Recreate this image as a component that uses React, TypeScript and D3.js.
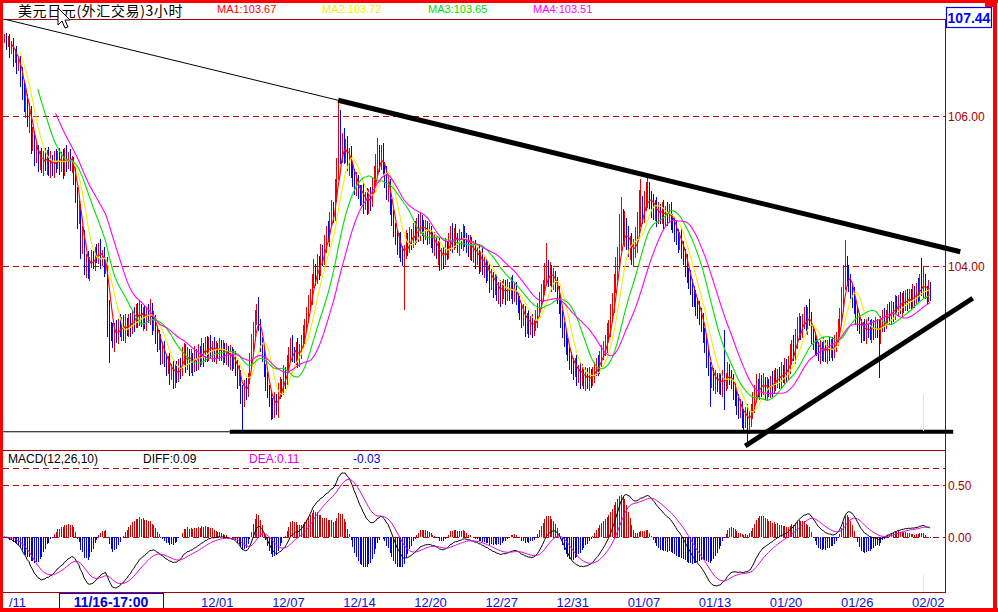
import * as d3 from "d3";

// USD/JPY 3-hour bars, closes in 0.01 JPY above 100.00
const closes = [
  705, 698, 702, 690, 694, 680, 684, 668, 672, 655,
  640, 618, 625, 600, 608, 565, 572, 548, 555, 538,
  545, 532, 548, 536, 550, 530, 542, 528, 546, 538,
  548, 534, 544, 530, 552, 538, 546, 536, 540, 522,
  500, 470, 478, 428, 440, 398, 410, 392, 405, 412,
  406, 420, 412, 424, 410, 416, 398, 404, 345, 318,
  312, 300, 318, 308, 322, 314, 326, 310, 324, 316,
  328, 318, 334, 326, 342, 330, 344, 328, 338, 326,
  340, 332, 344, 322, 330, 312, 298, 304, 282, 290,
  276, 268, 272, 258, 264, 250, 262, 254, 270, 262,
  280, 290, 272, 282, 266, 276, 268, 284, 272, 286,
  278, 292, 280, 296, 284, 298, 286, 294, 282, 292,
  286, 294, 282, 290, 280, 288, 276, 284, 272, 280,
  266, 250, 256, 232, 224, 240, 236, 252, 275, 296,
  318, 330, 340, 322, 300, 284, 262, 250, 236, 226,
  218, 210, 222, 212, 232, 244, 238, 258, 250, 270,
  282, 296, 286, 280, 290, 274, 288, 298, 310, 322,
  336, 350, 362, 380, 396, 386, 404, 396, 420, 412,
  430, 446, 440, 462, 476, 470, 500, 530, 560, 548,
  566, 550, 560, 536, 548, 530, 520, 505, 512, 498,
  492, 500, 484, 490, 480, 496, 488, 506, 518, 530,
  548, 540, 552, 530, 520, 500, 506, 478, 466, 448,
  440, 425, 432, 418, 410, 418, 436, 428, 442, 434,
  448, 440, 456, 446, 462, 450, 444, 452, 440, 446,
  436, 428, 434, 418, 424, 405, 416, 410, 426, 420,
  434, 446, 430, 442, 436, 428, 440, 432, 444, 436,
  430, 422, 432, 416, 424, 412, 420, 404, 412, 398,
  404, 390, 396, 380, 386, 372, 380, 366, 372, 360,
  368, 374, 362, 372, 366, 376, 364, 370, 358, 350,
  342, 330, 338, 322, 330, 318, 326, 316, 324, 330,
  342, 352, 364, 372, 388, 396, 384, 392, 380, 386,
  376, 362, 350, 334, 316, 306, 292, 286, 276, 268,
  262, 270, 256, 262, 250, 258, 248, 256, 246, 254,
  250, 258, 262, 270, 266, 278, 284, 290, 296, 310,
  318, 336, 352, 374, 392, 412, 430, 446, 440, 452,
  436, 424, 430, 412, 420, 432, 448, 462, 476, 470,
  484, 492, 498, 488, 480, 472, 478, 466, 474, 468,
  476, 464, 472, 466, 474, 462, 456, 448, 440, 432,
  438, 424, 414, 402, 390, 384, 374, 362, 358, 348,
  342, 336, 328, 310, 298, 280, 266, 252, 256, 246,
  250, 244, 248, 238, 256, 246, 250, 260, 252, 248,
  236, 226, 218, 210, 214, 200, 196, 204, 190, 198,
  206, 218, 230, 240, 236, 246, 238, 244, 234, 240,
  236, 246, 240, 252, 246, 256, 250, 260, 254, 264,
  258, 270, 280, 290, 284, 302, 312, 322, 316, 326,
  334, 322, 336, 330, 312, 300, 296, 292, 284, 290,
  286, 294, 282, 292, 288, 294, 286, 298, 304, 318,
  330, 354, 380, 398, 390, 380, 368, 360, 348, 336,
  326, 320, 312, 318, 310, 322, 316, 312, 320, 314,
  322, 316, 306, 324, 330, 326, 334, 340, 332, 344,
  338, 350, 344, 352, 346, 356, 350, 358, 352, 360,
  354, 362, 358, 368, 364, 378, 372, 380, 366, 362, 370, 366,
];

// upper / lower shadows beyond open-close, in 0.01 JPY
const hiWick = [
  4, 6, 5, 8, 6, 10, 5, 9, 6, 8,
  10, 6, 12, 5, 9, 6, 14, 8, 10, 6,
  8, 12, 6, 10, 5, 9, 12, 6, 8, 10,
  6, 10, 8, 12, 5, 9, 6, 10, 7, 5,
  12, 6, 10, 5, 14, 8, 6, 10, 7, 9,
  8, 5, 10, 7, 12, 6, 9, 5, 8, 10,
  7, 12, 6, 10, 8, 14, 6, 9, 12, 7,
  8, 10, 6, 12, 7, 9, 11, 6, 8, 10,
  6, 9, 12, 7, 10, 5, 8, 11, 6, 9,
  10, 6, 8, 12, 5, 9, 7, 11, 6, 8,
  12, 8, 6, 10, 7, 14, 8, 9, 6, 10,
  8, 12, 6, 9, 11, 7, 10, 6, 12, 8,
  6, 10, 8, 12, 7, 9, 6, 11, 8, 10,
  7, 9, 12, 6, 10, 8, 11, 6, 9, 14,
  8, 12, 10, 19, 8, 6, 10, 7, 9, 6,
  8, 6, 10, 7, 12, 8, 6, 10, 8, 12,
  10, 8, 12, 6, 9, 14, 8, 10, 12, 7,
  9, 12, 8, 10, 14, 7, 12, 9, 10, 8,
  12, 8, 14, 10, 12, 9, 16, 14, 61, 48,
  12, 18, 10, 14, 9, 12, 8, 10, 14, 9,
  10, 8, 12, 9, 14, 7, 10, 12, 16, 20,
  23, 14, 10, 12, 9, 14, 8, 10, 12, 9,
  10, 8, 12, 14, 9, 10, 12, 8, 10, 7,
  9, 12, 8, 14, 10, 6, 12, 9, 8, 11,
  8, 10, 12, 7, 9, 14, 8, 10, 12, 6,
  10, 7, 12, 9, 14, 8, 10, 6, 12, 9,
  8, 12, 10, 7, 9, 11, 6, 10, 8, 12,
  9, 7, 12, 8, 10, 6, 11, 9, 7, 10,
  12, 9, 8, 11, 7, 10, 12, 8, 9, 6,
  10, 8, 12, 9, 7, 11, 8, 10, 6, 12,
  9, 14, 12, 10, 16, 35, 12, 14, 10, 12,
  8, 10, 12, 9, 7, 10, 8, 12, 6, 9,
  10, 8, 12, 6, 9, 11, 7, 10, 8, 12,
  9, 7, 10, 8, 12, 9, 11, 10, 12, 14,
  10, 14, 12, 16, 20, 14, 40, 46, 30, 22,
  12, 18, 10, 14, 16, 20, 24, 40, 40, 18,
  16, 20, 20, 14, 12, 16, 10, 14, 12, 9,
  10, 12, 8, 14, 9, 11, 8, 10, 12, 9,
  8, 12, 10, 9, 14, 8, 11, 9, 12, 10,
  9, 12, 8, 10, 7, 11, 9, 6, 10, 8,
  12, 8, 10, 9, 6, 59, 8, 12, 10, 9,
  8, 10, 7, 12, 9, 6, 10, 8, 12, 9,
  10, 14, 12, 16, 10, 12, 9, 14, 8, 12,
  10, 8, 14, 9, 12, 7, 10, 12, 8, 14,
  12, 10, 16, 12, 18, 14, 20, 16, 12, 10,
  12, 14, 10, 20, 9, 8, 12, 10, 7, 11,
  9, 12, 8, 10, 14, 9, 12, 10, 8, 12,
  14, 18, 22, 37, 16, 12, 10, 9, 12, 8,
  10, 12, 9, 8, 11, 7, 10, 12, 9, 8,
  10, 8, 12, 9, 11, 14, 8, 10, 12, 9,
  8, 12, 10, 9, 14, 8, 11, 10, 12, 9,
  10, 14, 12, 9, 16, 12, 33, 20, 10, 8, 12, 9,
];

const loWick = [
  8, 10, 6, 12, 7, 14, 9, 12, 8, 16,
  18, 12, 20, 14, 22, 16, 12, 14, 10, 12,
  10, 8, 12, 9, 14, 10, 12, 8, 10, 14,
  9, 12, 8, 14, 10, 12, 8, 9, 12, 14,
  16, 20, 14, 18, 12, 10, 14, 9, 12, 8,
  10, 12, 8, 9, 14, 10, 12, 8, 40, 47,
  12, 9, 14, 10, 12, 8, 14, 10, 12, 9,
  10, 12, 9, 14, 8, 12, 10, 9, 14, 10,
  12, 8, 10, 14, 9, 16, 12, 10, 14, 12,
  10, 14, 12, 16, 10, 14, 12, 10, 8, 12,
  9, 12, 14, 10, 12, 8, 14, 9, 12, 10,
  12, 10, 14, 8, 12, 10, 9, 14, 10, 12,
  10, 12, 8, 14, 9, 12, 10, 14, 12, 9,
  12, 14, 10, 16, 45, 12, 14, 10, 9, 12,
  10, 12, 9, 8, 14, 12, 10, 16, 12, 14,
  23, 14, 12, 10, 14, 9, 12, 10, 14, 8,
  12, 10, 14, 9, 12, 10, 8, 12, 9, 14,
  10, 12, 8, 14, 9, 12, 10, 14, 9, 12,
  10, 12, 8, 14, 9, 12, 10, 14, 15, 12,
  10, 14, 12, 9, 16, 12, 14, 10, 12, 9,
  12, 10, 14, 9, 12, 10, 14, 9, 8, 12,
  10, 14, 12, 9, 16, 12, 14, 10, 12, 9,
  12, 10, 14, 12, 10, 69, 9, 14, 10, 12,
  10, 12, 9, 14, 12, 10, 14, 9, 12, 10,
  12, 10, 14, 9, 16, 12, 10, 14, 9, 12,
  10, 14, 12, 9, 12, 10, 14, 9, 12, 10,
  12, 10, 14, 9, 12, 16, 10, 14, 12, 10,
  14, 12, 10, 16, 12, 14, 10, 12, 16, 14,
  10, 12, 14, 9, 12, 10, 14, 12, 10, 12,
  14, 12, 10, 16, 12, 14, 10, 12, 9, 10,
  12, 10, 9, 12, 10, 14, 12, 10, 14, 12,
  10, 12, 14, 16, 12, 14, 10, 12, 14, 12,
  14, 10, 16, 12, 14, 10, 12, 14, 10, 12,
  12, 10, 14, 9, 12, 10, 12, 9, 10, 12,
  10, 12, 9, 14, 10, 12, 14, 10, 12, 14,
  14, 12, 16, 10, 12, 9, 14, 12, 10, 14,
  12, 10, 14, 12, 16, 10, 12, 14, 10, 12,
  12, 14, 10, 12, 9, 14, 12, 16, 12, 14,
  10, 14, 12, 16, 12, 14, 12, 16, 12, 14,
  12, 14, 16, 12, 14, 16, 12, 40, 14, 12,
  16, 12, 14, 10, 12, 38, 12, 14, 10, 12,
  14, 12, 16, 14, 12, 16, 14, 12, 25, 14,
  12, 10, 14, 12, 10, 14, 12, 10, 12, 14,
  10, 12, 14, 10, 12, 9, 14, 12, 10, 12,
  12, 10, 14, 12, 10, 14, 12, 10, 14, 12,
  10, 12, 14, 10, 16, 12, 14, 12, 10, 14,
  12, 14, 10, 12, 14, 10, 12, 9, 12, 10,
  12, 10, 14, 12, 16, 14, 12, 16, 12, 14,
  12, 10, 14, 12, 10, 14, 12, 10, 14, 12,
  10, 12, 55, 10, 12, 14, 10, 12, 9, 10,
  12, 10, 9, 12, 10, 14, 12, 10, 12, 9,
  12, 10, 14, 9, 12, 10, 12, 14, 10, 12, 10, 12,
];

const maPeriods = [5, 10, 20, 30];
const maColors = ["#ff0000", "#f0f000", "#00e000", "#ff00ff"];
const maLabels = ["MA1:103.67", "MA2:103.72", "MA3:103.65", "MA4:103.51"];
const maLabelX = [217, 322, 428, 533];

// date ticks every 40 bars; 11/18 sits under the cursor box
const dateBars = [0, 80, 120, 160, 200, 240, 280, 320, 360, 400, 440, 480, 520];
const dateLabels = ["11/11", "11/24", "12/01", "12/07", "12/14", "12/20", "12/27", "12/31", "01/07", "01/13", "01/20", "01/26", "02/02"];

const priceTicks = [106, 104];
const macdTicks = [0.5, 0];

// hand drawn trend lines: [bar index, price]
const upperLine = [[0.5, 107.29], [188, 106.21], [538, 104.19]];
const floorLine = [[-0.5, 101.79], [127, 101.79], [534, 101.79]];
const risingLine = [[417, 101.6], [545, 103.57]];

const AXIS = "#a80000";
const FONT = "'Liberation Sans', Arial, sans-serif";

export default function App() {
  const price = closes.map((v) => 100 + v / 100);
  const x = d3.scaleLinear().domain([0, 100]).range([4, 4 + 177.75]);
  const y = d3.scaleLinear().domain([104, 106]).range([266, 116]);
  const ym = d3.scaleLinear().domain([0, 0.5]).range([537, 485]);
  const px = (i: number) => Math.round(x(i)) + 0.5;

  const bars = price.map((c, i) => {
    const o = i ? price[i - 1] : c;
    const hi = Math.max(o, c) + (hiWick[i] ?? 8) / 100;
    const lo = Math.min(o, c) - (loWick[i] ?? 8) / 100;
    return { i, hi, lo, up: c >= o };
  });

  const sma = (p: number) =>
    price.map((_, i) => (i < p - 1 ? null : d3.mean(price.slice(i - p + 1, i + 1)) as number));

  const ema = (arr: number[], n: number) => {
    const k = 2 / (n + 1);
    let e = arr[0];
    return arr.map((v, i) => (e = i === 0 ? v : e + k * (v - e)));
  };
  const e12 = ema(price, 12);
  const e26 = ema(price, 26);
  const diff = e12.map((v, i) => v - e26[i]);
  const dea = ema(diff, 10);
  const hist = diff.map((v, i) => 2 * (v - dea[i]));

  const maLine = d3
    .line<number | null>()
    .defined((d) => d != null)
    .x((_, i) => x(i))
    .y((d) => y(d as number));
  const macdLine = d3
    .line<number>()
    .x((_, i) => x(i))
    .y((d) => ym(d));
  const trend = d3
    .line<number[]>()
    .x((d) => x(d[0]))
    .y((d) => y(d[1]));

  return (
    <svg
      width={998}
      height={612}
      style={{ position: "absolute", left: 0, top: 0, background: "#fff" }}
      fontFamily={FONT}
    >
      <defs>
        <clipPath id="mainClip">
          <rect x={3} y={20} width={942} height={430} />
        </clipPath>
        <clipPath id="macdClip">
          <rect x={3} y={451} width={942} height={141} />
        </clipPath>
        <clipPath id="dateClip">
          <rect x={3} y={593} width={990} height={15} />
        </clipPath>
      </defs>
      <rect width={998} height={612} fill="#fff" />

      {/* header */}
      <text x={18} y={16} fontSize={14} fontFamily="'Noto Sans CJK SC', sans-serif" fill="#000" letterSpacing={0.6}>
        美元日元(外汇交易)3小时
      </text>
      {maLabels.map((t, k) => (
        <text key={t} x={maLabelX[k]} y={13} fontSize={11} fill={maColors[k]}>
          {t}
        </text>
      ))}

      {/* panel frames */}
      <g stroke={AXIS} strokeWidth={1} shapeRendering="crispEdges">
        <line x1={3} x2={945} y1={19.5} y2={19.5} />
        <line x1={3} x2={945} y1={450.5} y2={450.5} />
        <line x1={3} x2={945} y1={592.5} y2={592.5} />
        <line x1={945.5} x2={945.5} y1={19} y2={593} />
      </g>
      <g stroke="#c00000" strokeDasharray="6,4" shapeRendering="crispEdges">
        {priceTicks.map((t) => (
          <line key={t} x1={3} x2={945} y1={Math.round(y(t)) + 0.5} y2={Math.round(y(t)) + 0.5} />
        ))}
        <line x1={3} x2={945} y1={468.5} y2={468.5} />
        {macdTicks.map((t) => (
          <line key={t} x1={3} x2={945} y1={Math.round(ym(t)) + 0.5} y2={Math.round(ym(t)) + 0.5} />
        ))}
      </g>

      {/* price bars + moving averages */}
      <g clipPath="url(#mainClip)">
        <g shapeRendering="crispEdges" strokeWidth={1}>
          {bars.map((b) => (
            <line
              key={b.i}
              x1={px(b.i)}
              x2={px(b.i)}
              y1={y(b.hi)}
              y2={y(b.lo)}
              stroke={b.up ? "#e80000" : "#0000f0"}
            />
          ))}
        </g>
        {maPeriods.map((p, k) => (
          <path key={p} d={maLine(sma(p)) ?? ""} fill="none" stroke={maColors[k]} strokeWidth={1.1} />
        ))}
      </g>

      {/* trend lines */}
      <path d={trend(upperLine.slice(0, 2)) ?? ""} stroke="#000" strokeWidth={1} fill="none" />
      <path d={trend(upperLine.slice(1)) ?? ""} stroke="#000" strokeWidth={5} fill="none" />
      <path d={trend(floorLine.slice(0, 2)) ?? ""} stroke="#000" strokeWidth={1.2} fill="none" />
      <path d={trend(floorLine.slice(1)) ?? ""} stroke="#000" strokeWidth={4} fill="none" />
      <path d={trend(risingLine) ?? ""} stroke="#000" strokeWidth={5} fill="none" />

      {/* MACD panel */}
      <text x={8} y={463} fontSize={12} fill="#000">MACD(12,26,10)</text>
      <text x={143} y={463} fontSize={12} fill="#000">DIFF:0.09</text>
      <text x={249} y={463} fontSize={12} fill="#e000e0">DEA:0.11</text>
      <text x={353} y={463} fontSize={12} fill="#0000e0">-0.03</text>
      <g clipPath="url(#macdClip)">
        <g shapeRendering="crispEdges" strokeWidth={1}>
          {hist.map((h, i) => (
            <line
              key={i}
              x1={px(i)}
              x2={px(i)}
              y1={ym(0)}
              y2={ym(h)}
              stroke={h >= 0 ? "#d00000" : "#0000e0"}
            />
          ))}
        </g>
        <path d={macdLine(diff) ?? ""} fill="none" stroke="#000" strokeWidth={1} />
        <path d={macdLine(dea) ?? ""} fill="none" stroke="#e000e0" strokeWidth={1} />
      </g>

      {/* cursor line */}
      <g stroke="#ffff00" strokeWidth={1}>
        <line x1={923.5} x2={923.5} y1={394} y2={431} />
        <line x1={923.5} x2={923.5} y1={575} y2={592} />
      </g>

      {/* right axis labels */}
      {priceTicks.map((t) => (
        <text key={t} x={948} y={y(t) + 5} fontSize={12} fill={AXIS}>
          {d3.format(".2f")(t)}
        </text>
      ))}
      {macdTicks.map((t) => (
        <text key={t} x={948} y={ym(t) + 5} fontSize={12} fill={AXIS}>
          {d3.format(".2f")(t)}
        </text>
      ))}
      <rect x={946.5} y={7.5} width={45} height={20} fill="#fff" stroke="#0000ff" strokeWidth={1.2} />
      <text x={969} y={23} fontSize={14} fontWeight="bold" fill="#0000ff" textAnchor="middle">
        107.44
      </text>

      {/* date axis */}
      <g clipPath="url(#dateClip)">
        {dateBars.map((b, k) => (
          <text
            key={b}
            x={b === 0 ? 8 : x(b)}
            y={607}
            fontSize={13}
            fill="#1010e0"
            textAnchor={b === 0 ? "end" : "middle"}
            dx={b === 0 ? 18 : 0}
          >
            {b === 0 ? dateLabels[k].slice(2) : dateLabels[k]}
          </text>
        ))}
      </g>
      <rect x={59.5} y={593.5} width={104} height={18} fill="#fff" stroke="#0000ff" strokeWidth={1} />
      <text x={111} y={607} fontSize={14} fontWeight="bold" fill="#0000e0" textAnchor="middle">
        11/16-17:00
      </text>

      {/* mouse pointer */}
      <path
        d="M58,8 L58,25 L62,21 L65,28 L68,27 L65,20 L70,20 Z"
        fill="#fff"
        stroke="#000"
        strokeWidth={1}
      />

      {/* window border */}
      <g fill="#ff0000">
        <rect x={0} y={0} width={998} height={3} />
        <rect x={0} y={0} width={3} height={612} />
        <rect x={993} y={0} width={4} height={612} />
        <rect x={0} y={608} width={998} height={4} />
        <rect x={985} y={0} width={12} height={7} />
      </g>
    </svg>
  );
}
